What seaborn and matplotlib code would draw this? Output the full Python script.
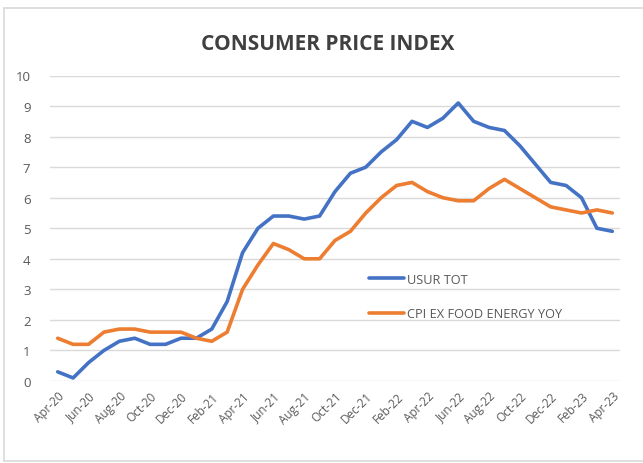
import pandas as pd
import numpy as np
import matplotlib.pyplot as plt
import seaborn as sns
from matplotlib.lines import Line2D

# %% data
months = ['Apr-20', 'May-20', 'Jun-20', 'Jul-20', 'Aug-20', 'Sep-20', 'Oct-20', 'Nov-20', 'Dec-20',
          'Jan-21', 'Feb-21', 'Mar-21', 'Apr-21', 'May-21', 'Jun-21', 'Jul-21', 'Aug-21', 'Sep-21',
          'Oct-21', 'Nov-21', 'Dec-21', 'Jan-22', 'Feb-22', 'Mar-22', 'Apr-22', 'May-22', 'Jun-22',
          'Jul-22', 'Aug-22', 'Sep-22', 'Oct-22', 'Nov-22', 'Dec-22', 'Jan-23', 'Feb-23', 'Mar-23',
          'Apr-23']
usur_tot = [0.3, 0.1, 0.6, 1.0, 1.3, 1.4, 1.2, 1.2, 1.4,
            1.4, 1.7, 2.6, 4.2, 5.0, 5.4, 5.4, 5.3, 5.4,
            6.2, 6.8, 7.0, 7.5, 7.9, 8.5, 8.3, 8.6, 9.1,
            8.5, 8.3, 8.2, 7.7, 7.1, 6.5, 6.4, 6.0, 5.0,
            4.9]
cpi_core = [1.4, 1.2, 1.2, 1.6, 1.7, 1.7, 1.6, 1.6, 1.6,
            1.4, 1.3, 1.6, 3.0, 3.8, 4.5, 4.3, 4.0, 4.0,
            4.6, 4.9, 5.5, 6.0, 6.4, 6.5, 6.2, 6.0, 5.9,
            5.9, 6.3, 6.6, 6.3, 6.0, 5.7, 5.6, 5.5, 5.6,
            5.5]
series_names = ['USUR TOT', 'CPI EX FOOD ENERGY YOY']
colors = ['#4472C4', '#ED7D31']

df = pd.DataFrame({
    'pos': list(range(len(months))) * 2,
    'value': usur_tot + cpi_core,
    'series': [series_names[0]] * len(months) + [series_names[1]] * len(months),
})

# %% plot
sns.set_style('white')
plt.rcParams['font.family'] = ['Open Sans', 'DejaVu Sans']

fig = plt.figure(figsize=(6.43, 4.64), dpi=100)
ax = fig.add_axes([50 / 643, (464 - 382) / 464, 570 / 643, 305.5 / 464])

sns.lineplot(data=df, x='pos', y='value', hue='series', hue_order=series_names,
             palette=colors, linewidth=2.6, ax=ax, clip_on=False)

ax.set_xlim(-0.5, len(months) - 0.5)
ax.set_ylim(0, 10)
ax.set_yticks(range(0, 11))
ax.set_xticks(range(0, len(months), 2))
ax.set_xticklabels(months[::2], rotation=45, ha='right', rotation_mode='anchor')
ax.tick_params(axis='x', labelsize=8.5, labelcolor='#595959', length=0, pad=6)
ax.tick_params(axis='y', labelsize=9.5, labelcolor='#595959', length=0, pad=14)
ax.yaxis.grid(True, color='#d9d9d9', linewidth=1)
ax.set_axisbelow(True)
for s in ax.spines.values():
    s.set_visible(False)
ax.set_xlabel('')
ax.set_ylabel('')

leg = ax.legend(loc='upper left', bbox_to_anchor=(357 / 643, 1 - 262 / 464),
                bbox_transform=fig.transFigure, frameon=False, fontsize=9.2,
                handlelength=2.8, handletextpad=0.2, labelspacing=1.7)
for t in leg.get_texts():
    t.set_color('#595959')

fig.text(328 / 643, 1 - 45 / 464, 'CONSUMER PRICE INDEX', ha='center', va='center',
         fontsize=15, fontweight='bold', color='#404040')

# chart border (screenshot frame)
for xs, ys in [([4, 643], [9, 9]), ([4, 4], [9, 462]), ([4, 643], [462, 462])]:
    fig.add_artist(Line2D([x / 643 for x in xs], [1 - y / 464 for y in ys],
                          color='#d9d9d9', linewidth=1.2, transform=fig.transFigure))

fig.savefig('out.png', dpi=100)
